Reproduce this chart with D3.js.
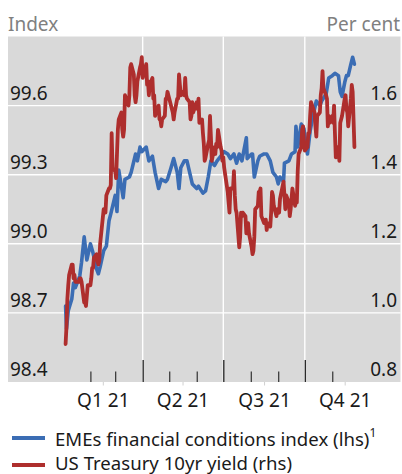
<!DOCTYPE html>
<html>
<head>
<meta charset="utf-8">
<script src="https://cdn.jsdelivr.net/npm/d3@7"></script>
<style>
  html, body { margin: 0; padding: 0; background: #ffffff; }
  svg { display: block; }
  text { font-family: "Noto Sans", "Open Sans", sans-serif; }
</style>
</head>
<body>
<svg id="chart" width="402" height="474"></svg>
<script>
// ---------- DATA ----------
const leftTicks = [98.4, 98.7, 99.0, 99.3, 99.6];
const rightTicks = [0.8, 1.0, 1.2, 1.4, 1.6];
const quarterBounds = ["2021-04-01", "2021-07-01", "2021-10-01"];
const monthTicks = ["2021-02-01", "2021-03-01", "2021-05-01", "2021-06-01", "2021-08-01", "2021-09-01", "2021-11-01"];
const quarterLabels = ["Q1 21", "Q2 21", "Q3 21", "Q4 21"];
const quarterMids = ["2021-02-15", "2021-05-16", "2021-08-16", "2021-11-15"];
const seriesNames = ["EMEs financial conditions index (lhs)", "US Treasury 10yr yield (rhs)"];

// EMEs financial conditions index (lhs)
const emeFci = [
  ["2021-01-04",98.73],["2021-01-05",98.63],["2021-01-07",98.71],["2021-01-11",98.76],["2021-01-13",98.83],
  ["2021-01-15",98.81],["2021-01-20",98.86],["2021-01-22",98.92],["2021-01-25",99.03],["2021-01-28",98.93],
  ["2021-02-01",99.00],["2021-02-04",98.96],["2021-02-08",98.89],["2021-02-10",98.87],["2021-02-12",98.90],
  ["2021-02-16",98.97],["2021-02-19",98.99],["2021-02-22",99.10],["2021-02-24",99.13],["2021-03-01",99.21],
  ["2021-03-03",99.14],["2021-03-05",99.32],["2021-03-10",99.20],["2021-03-12",99.28],["2021-03-17",99.29],
  ["2021-03-19",99.31],["2021-03-24",99.39],["2021-03-26",99.36],["2021-03-29",99.42],["2021-03-31",99.40],
  ["2021-04-05",99.42],["2021-04-08",99.36],["2021-04-12",99.38],["2021-04-15",99.31],["2021-04-19",99.24],
  ["2021-04-22",99.28],["2021-04-27",99.27],["2021-04-29",99.28],["2021-05-03",99.33],["2021-05-06",99.37],
  ["2021-05-10",99.31],["2021-05-12",99.24],["2021-05-14",99.33],["2021-05-18",99.36],["2021-05-21",99.36],
  ["2021-05-24",99.31],["2021-05-27",99.26],["2021-06-01",99.24],["2021-06-03",99.25],["2021-06-08",99.22],
  ["2021-06-11",99.23],["2021-06-14",99.29],["2021-06-17",99.36],["2021-06-21",99.34],["2021-06-24",99.36],
  ["2021-06-28",99.38],["2021-07-02",99.40],["2021-07-06",99.39],["2021-07-09",99.37],["2021-07-13",99.39],
  ["2021-07-16",99.35],["2021-07-19",99.39],["2021-07-22",99.36],["2021-07-27",99.46],["2021-07-28",99.37],
  ["2021-08-02",99.39],["2021-08-03",99.39],["2021-08-05",99.29],["2021-08-09",99.36],["2021-08-11",99.38],
  ["2021-08-16",99.39],["2021-08-19",99.39],["2021-08-23",99.36],["2021-08-26",99.31],["2021-08-30",99.29],
  ["2021-09-01",99.26],["2021-09-03",99.29],["2021-09-07",99.27],["2021-09-08",99.35],["2021-09-13",99.36],
  ["2021-09-16",99.39],["2021-09-20",99.40],["2021-09-21",99.51],["2021-09-23",99.42],["2021-09-27",99.52],
  ["2021-09-30",99.50],["2021-10-04",99.39],["2021-10-07",99.49],["2021-10-11",99.57],["2021-10-14",99.62],
  ["2021-10-18",99.60],["2021-10-20",99.62],["2021-10-25",99.65],["2021-10-28",99.72],["2021-11-01",99.73],
  ["2021-11-04",99.74],["2021-11-08",99.73],["2021-11-10",99.66],["2021-11-12",99.64],["2021-11-15",99.70],
  ["2021-11-17",99.73],["2021-11-19",99.73],["2021-11-22",99.78],["2021-11-24",99.81],["2021-11-26",99.78]
];

// US Treasury 10yr yield (rhs), per cent
const usYield = [
  ["2021-01-04",0.91],["2021-01-05",0.96],["2021-01-06",1.04],["2021-01-07",1.08],["2021-01-08",1.11],
  ["2021-01-11",1.14],["2021-01-12",1.14],["2021-01-13",1.10],["2021-01-14",1.11],["2021-01-15",1.09],
  ["2021-01-19",1.09],["2021-01-20",1.10],["2021-01-21",1.10],["2021-01-22",1.09],["2021-01-25",1.03],
  ["2021-01-26",1.03],["2021-01-27",1.02],["2021-01-28",1.05],["2021-01-29",1.08],["2021-02-01",1.08],
  ["2021-02-02",1.10],["2021-02-03",1.13],["2021-02-04",1.13],["2021-02-05",1.16],["2021-02-08",1.17],
  ["2021-02-09",1.15],["2021-02-10",1.14],["2021-02-11",1.15],["2021-02-12",1.20],["2021-02-16",1.30],
  ["2021-02-17",1.29],["2021-02-18",1.29],["2021-02-19",1.34],["2021-02-22",1.36],["2021-02-23",1.36],
  ["2021-02-24",1.37],["2021-02-25",1.52],["2021-02-26",1.42],["2021-03-01",1.41],["2021-03-02",1.39],
  ["2021-03-03",1.46],["2021-03-04",1.53],["2021-03-05",1.56],["2021-03-08",1.58],["2021-03-09",1.53],
  ["2021-03-10",1.51],["2021-03-11",1.53],["2021-03-12",1.63],["2021-03-15",1.61],["2021-03-16",1.60],
  ["2021-03-17",1.63],["2021-03-18",1.71],["2021-03-19",1.72],["2021-03-22",1.69],["2021-03-23",1.63],
  ["2021-03-24",1.61],["2021-03-25",1.63],["2021-03-26",1.67],["2021-03-29",1.71],["2021-03-30",1.72],
  ["2021-03-31",1.74],["2021-04-01",1.68],["2021-04-05",1.72],["2021-04-06",1.66],["2021-04-07",1.67],
  ["2021-04-08",1.63],["2021-04-09",1.66],["2021-04-12",1.68],["2021-04-13",1.62],["2021-04-14",1.63],
  ["2021-04-15",1.57],["2021-04-16",1.58],["2021-04-19",1.60],["2021-04-20",1.56],["2021-04-21",1.56],
  ["2021-04-22",1.54],["2021-04-23",1.56],["2021-04-26",1.57],["2021-04-27",1.62],["2021-04-28",1.62],
  ["2021-04-29",1.64],["2021-04-30",1.63],["2021-05-03",1.60],["2021-05-04",1.59],["2021-05-05",1.58],
  ["2021-05-06",1.56],["2021-05-07",1.58],["2021-05-10",1.62],["2021-05-11",1.62],["2021-05-12",1.69],
  ["2021-05-13",1.66],["2021-05-14",1.63],["2021-05-17",1.64],["2021-05-18",1.63],["2021-05-19",1.68],
  ["2021-05-20",1.63],["2021-05-21",1.62],["2021-05-24",1.61],["2021-05-25",1.56],["2021-05-26",1.57],
  ["2021-05-27",1.61],["2021-05-28",1.58],["2021-06-01",1.61],["2021-06-02",1.59],["2021-06-03",1.62],
  ["2021-06-04",1.55],["2021-06-07",1.56],["2021-06-08",1.52],["2021-06-09",1.49],["2021-06-10",1.44],
  ["2021-06-11",1.45],["2021-06-14",1.49],["2021-06-15",1.50],["2021-06-16",1.57],["2021-06-17",1.51],
  ["2021-06-18",1.44],["2021-06-21",1.48],["2021-06-22",1.46],["2021-06-23",1.49],["2021-06-24",1.48],
  ["2021-06-25",1.53],["2021-06-28",1.48],["2021-06-29",1.47],["2021-06-30",1.44],["2021-07-01",1.45],
  ["2021-07-02",1.42],["2021-07-06",1.35],["2021-07-07",1.32],["2021-07-08",1.29],["2021-07-09",1.36],
  ["2021-07-12",1.36],["2021-07-13",1.41],["2021-07-14",1.34],["2021-07-15",1.30],["2021-07-16",1.29],
  ["2021-07-19",1.19],["2021-07-20",1.22],["2021-07-21",1.29],["2021-07-22",1.28],["2021-07-23",1.29],
  ["2021-07-26",1.28],["2021-07-27",1.23],["2021-07-28",1.24],["2021-07-29",1.26],["2021-07-30",1.23],
  ["2021-08-02",1.19],["2021-08-03",1.17],["2021-08-04",1.18],["2021-08-05",1.22],["2021-08-06",1.30],
  ["2021-08-09",1.31],["2021-08-10",1.35],["2021-08-11",1.35],["2021-08-12",1.36],["2021-08-13",1.28],
  ["2021-08-16",1.26],["2021-08-17",1.26],["2021-08-18",1.27],["2021-08-19",1.24],["2021-08-20",1.26],
  ["2021-08-23",1.25],["2021-08-24",1.29],["2021-08-25",1.35],["2021-08-26",1.34],["2021-08-27",1.31],
  ["2021-08-30",1.28],["2021-08-31",1.30],["2021-09-01",1.30],["2021-09-02",1.29],["2021-09-03",1.33],
  ["2021-09-07",1.38],["2021-09-08",1.34],["2021-09-09",1.30],["2021-09-10",1.34],["2021-09-13",1.32],
  ["2021-09-14",1.28],["2021-09-15",1.30],["2021-09-16",1.33],["2021-09-17",1.36],["2021-09-20",1.31],
  ["2021-09-21",1.32],["2021-09-22",1.32],["2021-09-23",1.41],["2021-09-24",1.46],["2021-09-27",1.48],
  ["2021-09-28",1.53],["2021-09-29",1.54],["2021-09-30",1.50],["2021-10-01",1.47],["2021-10-04",1.48],
  ["2021-10-05",1.52],["2021-10-06",1.52],["2021-10-07",1.57],["2021-10-08",1.61],["2021-10-12",1.58],
  ["2021-10-13",1.54],["2021-10-14",1.51],["2021-10-15",1.57],["2021-10-18",1.58],["2021-10-19",1.63],
  ["2021-10-20",1.65],["2021-10-21",1.70],["2021-10-22",1.65],["2021-10-25",1.63],["2021-10-26",1.62],
  ["2021-10-27",1.54],["2021-10-28",1.57],["2021-10-29",1.55],["2021-11-01",1.57],["2021-11-02",1.55],
  ["2021-11-03",1.60],["2021-11-04",1.52],["2021-11-05",1.45],["2021-11-08",1.48],["2021-11-09",1.44],
  ["2021-11-10",1.55],["2021-11-12",1.57],["2021-11-15",1.62],["2021-11-16",1.63],["2021-11-17",1.59],
  ["2021-11-18",1.58],["2021-11-19",1.54],["2021-11-22",1.62],["2021-11-23",1.66],["2021-11-24",1.64],
  ["2021-11-26",1.48]
];

// ---------- CHART ----------
const parse = d3.utcParse("%Y-%m-%d");
const svg = d3.select("#chart");
const W = 402, H = 474;
const plot = { left: 8, right: 400.5, top: 36.5, bottom: 382 };
const blue = "#3b6db4", red = "#ae2e2d";

const x = d3.scaleUtc()
  .domain([parse("2020-10-31"), parse("2022-01-17")])
  .range([plot.left, plot.right]);
const yL = d3.scaleLinear().domain([98.4, 99.9]).range([plot.bottom, plot.top]);
const yR = d3.scaleLinear().domain([0.8, 1.8]).range([plot.bottom, plot.top]);

svg.append("rect").attr("width", W).attr("height", H).attr("fill", "#fff");
svg.append("rect")
  .attr("x", plot.left).attr("y", plot.top)
  .attr("width", plot.right - plot.left).attr("height", plot.bottom - plot.top)
  .attr("fill", "#d9d9d9");

// horizontal gridlines
svg.append("g").selectAll("line")
  .data(leftTicks.filter(v => v > 98.4))
  .join("line")
  .attr("x1", plot.left).attr("x2", plot.right)
  .attr("y1", d => yL(d)).attr("y2", d => yL(d))
  .attr("stroke", "#fff").attr("stroke-width", 1.4);

// vertical quarter gridlines
svg.append("g").selectAll("line")
  .data(quarterBounds.map(parse))
  .join("line")
  .attr("x1", d => x(d)).attr("x2", d => x(d))
  .attr("y1", plot.top).attr("y2", plot.bottom)
  .attr("stroke", "#fff").attr("stroke-width", 1.4);

// bottom tick marks via axes
const axMinor = d3.axisBottom(x).tickValues(monthTicks.map(parse)).tickSize(-10.5).tickFormat("");
const gMinor = svg.append("g").attr("transform", `translate(0,${plot.bottom})`).call(axMinor);
gMinor.select(".domain").remove();
gMinor.selectAll("line").attr("stroke", "#222").attr("stroke-width", 1.1);

const axMajor = d3.axisBottom(x).tickValues(quarterBounds.map(parse)).tickSize(-22).tickFormat("");
const gMajor = svg.append("g").attr("transform", `translate(0,${plot.bottom})`).call(axMajor);
gMajor.select(".domain").remove();
gMajor.selectAll("line").attr("stroke", "#222").attr("stroke-width", 1.3);

// quarter labels (faint ticks below plot at quarter centres)
const axQ = d3.axisBottom(x).tickValues(quarterMids.map(parse)).tickSize(3.5)
  .tickFormat((d, i) => quarterLabels[i]);
const gQ = svg.append("g").attr("transform", `translate(0,${plot.bottom})`).call(axQ);
gQ.select(".domain").remove();
gQ.selectAll("line").attr("stroke", "#d0d0d0").attr("stroke-width", 1);
gQ.selectAll("text")
  .attr("y", 24.8).attr("dy", 0)
  .attr("font-family", "'Noto Sans', sans-serif")
  .attr("font-size", 19).attr("fill", "#1a1a1a");

// left labels
svg.append("g").selectAll("text")
  .data(leftTicks)
  .join("text")
  .attr("x", 10).attr("y", d => yL(d) - 6)
  .attr("font-size", 19).attr("fill", "#1a1a1a")
  .text(d => d.toFixed(1));

// right labels
svg.append("g").selectAll("text")
  .data(rightTicks)
  .join("text")
  .attr("x", 397).attr("y", d => yR(d) - 6)
  .attr("text-anchor", "end")
  .attr("font-size", 19).attr("fill", "#1a1a1a")
  .text(d => d.toFixed(1));

// axis titles
svg.append("text").attr("x", 8).attr("y", 31).attr("font-size", 19).attr("fill", "#808080").text("Index");
svg.append("text").attr("x", 400).attr("y", 31).attr("text-anchor", "end")
  .attr("font-size", 19).attr("fill", "#808080").text("Per cent");

// lines
const lineL = d3.line().x(d => x(parse(d[0]))).y(d => yL(d[1]));
const lineR = d3.line().x(d => x(parse(d[0]))).y(d => yR(d[1]));

svg.append("path").datum(emeFci)
  .attr("d", lineL).attr("fill", "none").attr("stroke", blue)
  .attr("stroke-width", 3.6).attr("stroke-linejoin", "round").attr("stroke-linecap", "round");
svg.append("path").datum(usYield)
  .attr("d", lineR).attr("fill", "none").attr("stroke", red)
  .attr("stroke-width", 3.8).attr("stroke-linejoin", "round").attr("stroke-linecap", "round");

// legend
const legY = [438, 465];
const legTextY = [445.5, 469.5];
const legColors = [blue, red];
const leg = svg.append("g");
seriesNames.forEach((name, i) => {
  leg.append("line").attr("x1", 12).attr("x2", 45).attr("y1", legY[i]).attr("y2", legY[i])
    .attr("stroke", legColors[i]).attr("stroke-width", 4);
  const t = leg.append("text").attr("x", 55).attr("y", legTextY[i])
    .attr("font-size", 18.6).attr("fill", "#1a1a1a").text(name);
  if (i === 0) {
    t.append("tspan").attr("dy", -9).attr("font-size", 12).text("1");
  }
});
</script>
</body>
</html>
